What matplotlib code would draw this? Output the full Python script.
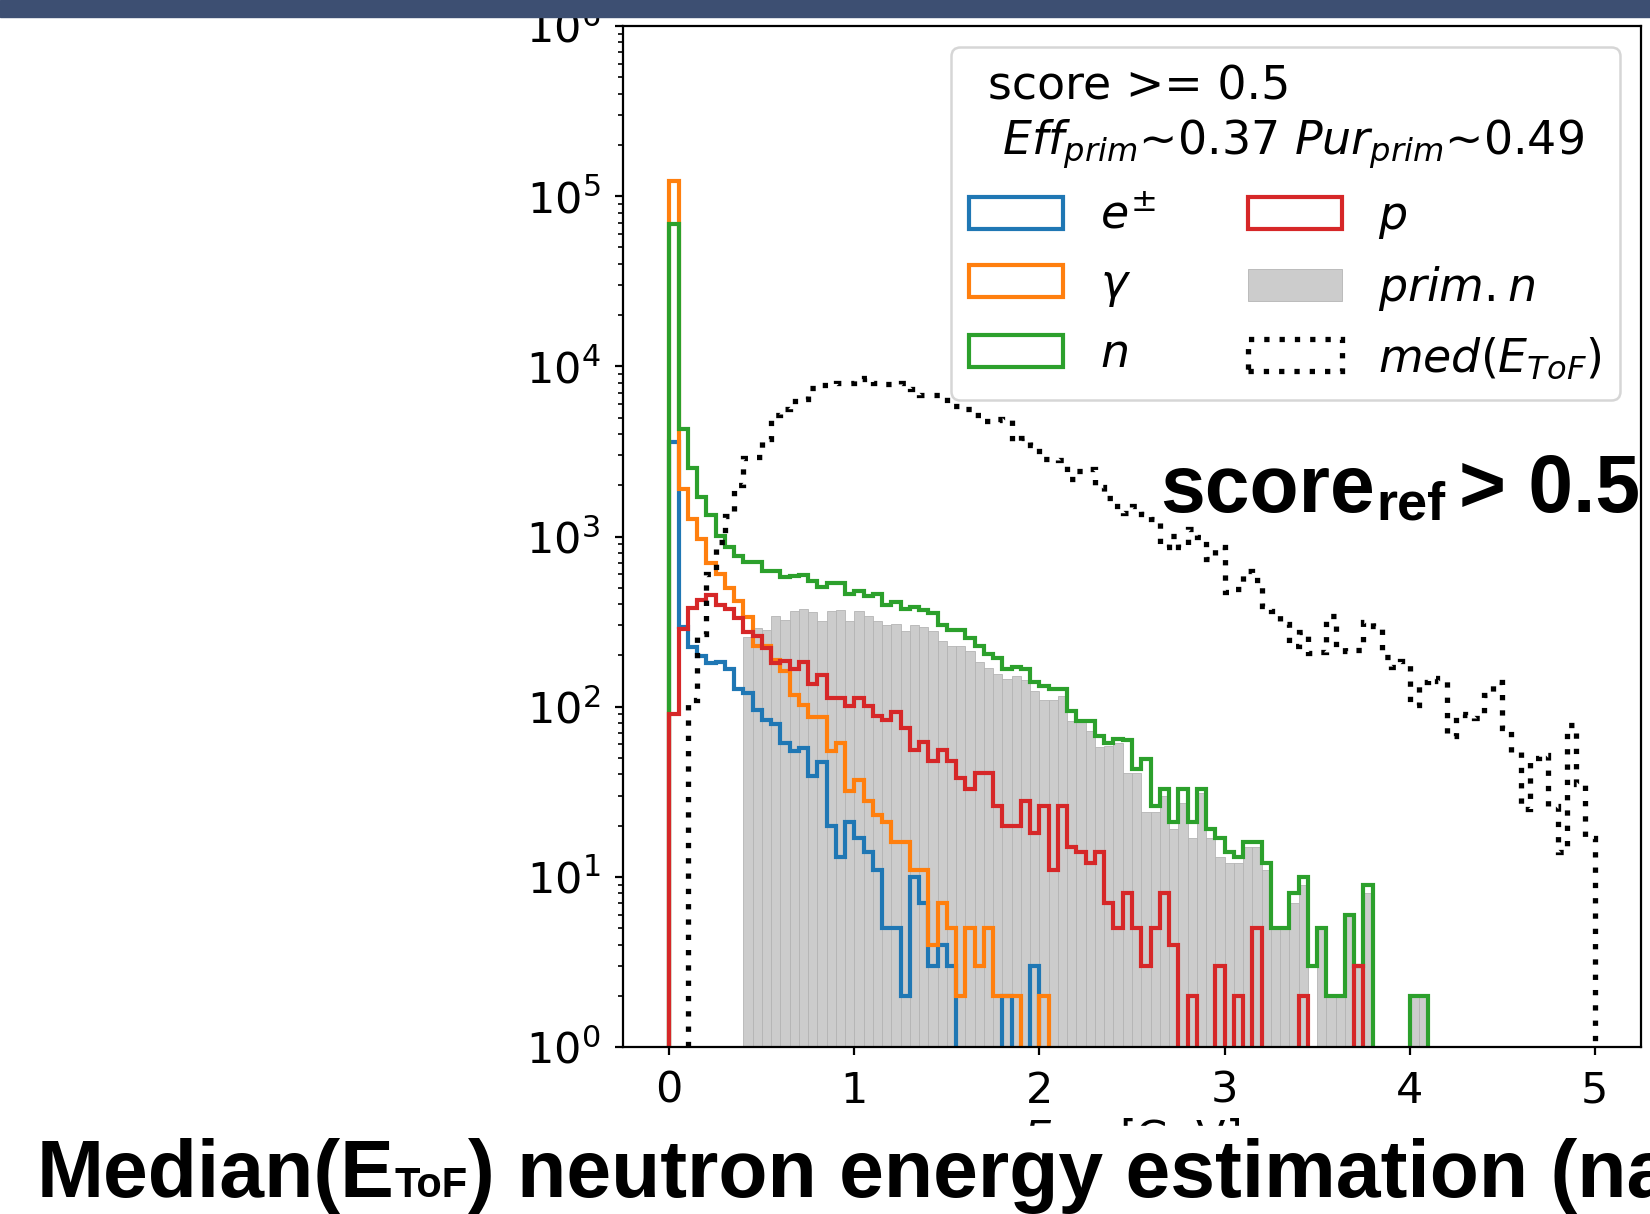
import matplotlib.pyplot as plt
from matplotlib.patches import Rectangle
import numpy as np

plt.rcParams['font.family'] = ['DejaVu Sans']
plt.rcParams['mathtext.fontset'] = 'dejavusans'

# 100 bins of 0.05 between 0 and 5
edges = np.linspace(0, 5, 101)
centers = 0.5 * (edges[:-1] + edges[1:])

electrons = [
    3600, 295, 223, 199, 180, 184, 166, 127, 121, 95,
    84, 79, 61, 55, 57, 39, 47, 20, 13, 21,
    17, 14, 11, 5, 5, 2, 10, 7, 3, 4,
    3, 0, 0, 0, 0, 0, 2, 0, 0, 3,
    0, 0, 0, 0, 0, 0, 0, 0, 0, 0,
    0, 0, 0, 0, 0, 0, 0, 0, 0, 0,
    0, 0, 0, 0, 0, 0, 0, 0, 0, 0,
    0, 0, 0, 0, 0, 0, 0, 0, 0, 0,
    0, 0, 0, 0, 0, 0, 0, 0, 0, 0,
    0, 0, 0, 0, 0, 0, 0, 0, 0, 0,
]

gammas = [
    122000, 1900, 1270, 970, 700, 602, 500, 419, 335, 226,
    226, 187, 161, 117, 102, 87, 87, 55, 61, 32,
    37, 28, 23, 21, 16, 16, 11, 11, 4, 7,
    5, 2, 5, 3, 5, 2, 2, 2, 0, 0,
    2, 0, 0, 0, 0, 0, 0, 0, 0, 0,
    0, 0, 0, 0, 0, 0, 0, 0, 0, 0,
    0, 0, 0, 0, 0, 0, 0, 0, 0, 0,
    0, 0, 0, 0, 0, 0, 0, 0, 0, 0,
    0, 0, 0, 0, 0, 0, 0, 0, 0, 0,
    0, 0, 0, 0, 0, 0, 0, 0, 0, 0,
]

neutrons = [
    68400, 4300, 2520, 1700, 1330, 1010, 865, 772, 705, 705,
    630, 630, 575, 585, 590, 550, 503, 533, 533, 459,
    480, 449, 459, 396, 410, 375, 383, 372, 355, 302,
    283, 283, 252, 226, 205, 194, 166, 170, 166, 139,
    132, 127, 127, 94, 82, 82, 67, 61, 65, 64,
    43, 49, 26, 33, 21, 33, 21, 33, 19, 17,
    14, 13, 16, 16, 12, 5, 5, 8, 10, 3,
    5, 2, 2, 6, 3, 9, 0, 0, 0, 0,
    2, 2, 0, 0, 0, 0, 0, 0, 0, 0,
    0, 0, 0, 0, 0, 0, 0, 0, 0, 0,
]

protons = [
    90, 286, 378, 425, 453, 396, 375, 330, 273, 261,
    222, 180, 185, 166, 182, 136, 153, 112, 112, 101,
    113, 101, 88, 84, 93, 75, 56, 62, 48, 56,
    48, 38, 33, 41, 41, 26, 20, 20, 28, 18,
    26, 11, 26, 15, 14, 12, 14, 7, 5, 8,
    5, 3, 5, 8, 4, 0, 2, 0, 0, 3,
    0, 2, 0, 5, 0, 0, 0, 0, 2, 0,
    0, 0, 0, 0, 3, 0, 0, 0, 0, 0,
    0, 0, 0, 0, 0, 0, 0, 0, 0, 0,
    0, 0, 0, 0, 0, 0, 0, 0, 0, 0,
]

primary = [
    0, 0, 0, 0, 0, 0, 0, 0, 255, 290,
    283, 339, 322, 364, 375, 359, 319, 364, 368, 320,
    364, 339, 318, 300, 308, 280, 300, 292, 279, 242,
    226, 226, 211, 182, 168, 156, 145, 152, 144, 124,
    110, 110, 116, 82, 81, 72, 58, 59, 61, 41,
    41, 24, 24, 30, 19, 27, 17, 31, 17, 13,
    12, 12, 15, 15, 11, 5, 5, 7, 9, 0,
    5, 2, 2, 6, 3, 8, 0, 0, 0, 0,
    2, 2, 0, 0, 0, 0, 0, 0, 0, 0,
    0, 0, 0, 0, 0, 0, 0, 0, 0, 0,
]

med_tof = [
    0, 0, 110, 267, 602, 933, 1316, 1995, 2900, 2950,
    3757, 5150, 5640, 6270, 6470, 7470, 7740, 7740, 7930, 7990,
    8480, 8520, 7930, 7870, 7870, 8000, 7330, 6820, 6820, 6820,
    5820, 5820, 5590, 5200, 4750, 4900, 4830, 3660, 3790, 3460,
    2860, 2840, 2820, 2180, 2410, 2500, 1950, 1680, 1510, 1372,
    1510, 1365, 1270, 865, 1012, 865, 1110, 998, 738, 865,
    470, 491, 630, 557, 392, 366, 306, 228, 273, 208,
    209, 342, 223, 213, 215, 315, 299, 197, 172, 185,
    102, 139, 148, 142, 67, 90, 89, 86, 117, 140,
    75, 54, 25, 50, 52, 26, 14, 78, 35, 17,
]

labels = [r'$e^{\pm}$', r'$\gamma$', r'$n$', r'$p$', r'$prim.n$', r'$med(E_{ToF})$']
title = 'score >= 0.5\n $Eff_{prim}$~0.37 $Pur_{prim}$~0.49'

W, H = 1650, 1214
fig = plt.figure(figsize=(W / 100, H / 100), dpi=100)
ax = fig.add_axes([623 / W, 1 - 1047 / H, (1641 - 623) / W, (1047 - 26) / H])

lw = 3.0
_, _, p_prim = ax.hist(centers, bins=edges, weights=primary, log=True,
                       color='#cccccc', edgecolor='#b4b4b4', linewidth=0.6, zorder=1)
_, _, p_e = ax.hist(centers, bins=edges, weights=electrons, log=True,
                    histtype='step', color='tab:blue', linewidth=lw, zorder=2)
_, _, p_g = ax.hist(centers, bins=edges, weights=gammas, log=True,
                    histtype='step', color='tab:orange', linewidth=lw, zorder=2)
_, _, p_n = ax.hist(centers, bins=edges, weights=neutrons, log=True,
                    histtype='step', color='tab:green', linewidth=lw, zorder=2)
_, _, p_p = ax.hist(centers, bins=edges, weights=protons, log=True,
                    histtype='step', color='tab:red', linewidth=lw, zorder=2)
_, _, p_m = ax.hist(centers, bins=edges, weights=med_tof, log=True,
                    histtype='step', color='black', linewidth=3.8,
                    linestyle=(0, (1, 1.9)), zorder=3)

ax.set_xlim(-0.25, 5.25)
ax.set_ylim(1, 1e6)
ax.set_xticks([0, 1, 2, 3, 4, 5])
ax.tick_params(axis='both', which='major', labelsize=31, length=5.8, width=1.6, pad=10.5)
ax.tick_params(axis='both', which='minor', length=3.5, width=1.2)
for s in ax.spines.values():
    s.set_linewidth(1.6)
ax.set_xlabel(r'$E_{ToF}$ [GeV]', fontsize=31)

leg = ax.legend([p_e[0], p_g[0], p_n[0], p_p[0], p_prim, p_m[0]], labels,
                ncol=2, loc='upper right', fontsize=33, title=title,
                title_fontsize=33, handlelength=2.05, borderaxespad=0.45)
leg.get_frame().set_linewidth(1.8)

# slide overlays: header band, white footer and bold captions
fig.add_artist(Rectangle((0, 1 - 17 / H), 1, 17 / H, transform=fig.transFigure,
                         color='#3d4f72', zorder=5))
fig.add_artist(Rectangle((0, 0), 1, 88 / H, transform=fig.transFigure,
                         color='white', zorder=5))

r = fig.canvas.get_renderer()
bold = dict(family='Liberation Sans', weight='bold', color='black', va='baseline', zorder=6)

t = fig.text(1160 / W, 1 - 512 / H, 'score', fontsize=58, **bold)
x = t.get_window_extent(r).x1
t = fig.text(x / W + 0.001, 1 - 520 / H, 'ref', fontsize=39, **bold)
x = t.get_window_extent(r).x1
fig.text(x / W + 0.008, 1 - 512 / H, '> 0.5', fontsize=58, **bold)

t = fig.text(37 / W, 1 - 1197 / H, 'Median(E', fontsize=58, **bold)
x = t.get_window_extent(r).x1
t = fig.text(x / W, 1 - 1197 / H, 'ToF', fontsize=30, **bold)
x = t.get_window_extent(r).x1
fig.text(x / W, 1 - 1197 / H, ') neutron energy estimation (na', fontsize=58, **bold)

fig.savefig('out.png', dpi=100)
